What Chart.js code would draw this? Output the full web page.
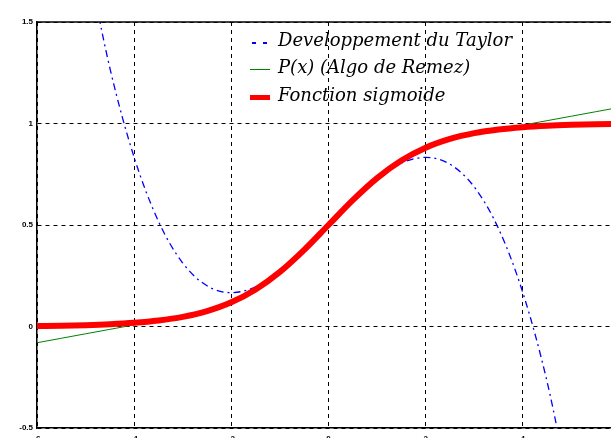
<!DOCTYPE html>
<html>
<head>
<meta charset="utf-8">
<script src="https://cdn.jsdelivr.net/npm/chart.js@4/dist/chart.umd.min.js"></script>
<style>
  html, body { margin: 0; padding: 0; background: #fff; overflow: hidden; width: 611px; height: 438px; }
  #wrap { position: relative; width: 640px; height: 444px; }
  #legend { position: absolute; left: 250px; top: 26px; font-family: "DejaVu Serif", serif; font-style: italic; font-size: 18px; color: #000; }
  .row { display: flex; align-items: center; height: 27.3px; line-height: 27px; white-space: nowrap; }
  .swatch { width: 20px; margin-right: 8px; position: relative; top: 3px; }
  .sw-taylor { height: 2px; background: repeating-linear-gradient(to right, transparent 0 2px, #0000ff 2px 6px, transparent 6px 11px); }
  .sw-remez { height: 1px; background: #008000; }
  .sw-sigmoid { height: 5px; background: #ff0000; }
</style>
</head>
<body>
<div id="wrap">
  <canvas id="chart" width="640" height="444"></canvas>
  <div id="legend">
    <div class="row"><div class="swatch sw-taylor"></div><span>Developpement du Taylor</span></div>
    <div class="row"><div class="swatch sw-remez"></div><span>P(x) (Algo de Remez)</span></div>
    <div class="row"><div class="swatch sw-sigmoid"></div><span>Fonction sigmoide</span></div>
  </div>
</div>
<script>
// Sample abscissas shared by the three curves
const xValues = [-6, -5.5, -5, -4.5, -4, -3.5, -3, -2.5, -2, -1.5, -1, -0.5, 0,
                 0.5, 1, 1.5, 2, 2.5, 3, 3.5, 4, 4.5, 5, 5.5, 6];

// Sigmoid function
const sigmoidValues = [0.0025, 0.0041, 0.0067, 0.011, 0.018, 0.0293, 0.0474, 0.0759, 0.1192, 0.1824, 0.2689, 0.3775, 0.5,
                       0.6225, 0.7311, 0.8176, 0.8808, 0.9241, 0.9526, 0.9707, 0.982, 0.989, 0.9933, 0.9959, 0.9975];

// Polynomial approximation P(x) (Remez)
const remezValues = [-0.08, -0.058, -0.036, -0.014, 0.008, 0.028, 0.05, 0.078, 0.12, 0.182, 0.268, 0.377, 0.5,
                     0.623, 0.732, 0.818, 0.88, 0.922, 0.95, 0.972, 0.992, 1.014, 1.036, 1.058, 1.08];

// Taylor expansion (leaves the plot beyond |x| ~ 4.7)
const taylorValues = [null, null, 1.854, 1.273, 0.833, 0.518, 0.3125, 0.2005, 0.1667, 0.1953, 0.2708, 0.3776, 0.5,
                      0.6224, 0.7292, 0.8047, 0.8333, 0.7995, 0.6875, 0.482, 0.1667, -0.273, -0.854, null, null];

// Axis ticks
const xTicks = [-6, -4, -2, 0, 2, 4, 6];
const yTicks = [-0.5, 0, 0.5, 1, 1.5];

const toPoints = vals => xValues.map((x, i) => ({ x: x, y: vals[i] }));

// Closes the plot frame along the top edge
const topFrame = {
  id: 'topFrame',
  afterDraw(chart) {
    const { ctx, chartArea } = chart;
    ctx.save();
    ctx.strokeStyle = '#000';
    ctx.lineWidth = 1.5;
    ctx.beginPath();
    ctx.moveTo(chartArea.left, chartArea.top);
    ctx.lineTo(chartArea.right, chartArea.top);
    ctx.stroke();
    ctx.restore();
  }
};

const tickFont = { family: 'Liberation Sans', size: 8, weight: 'bold' };

new Chart(document.getElementById('chart'), {
  type: 'line',
  data: {
    datasets: [
      {
        label: 'Fonction sigmoide',
        data: toPoints(sigmoidValues),
        borderColor: '#ff0000',
        borderWidth: 6,
        pointRadius: 0,
        cubicInterpolationMode: 'monotone'
      },
      {
        label: 'P(x) (Algo de Remez)',
        data: toPoints(remezValues),
        borderColor: '#008000',
        borderWidth: 1,
        pointRadius: 0,
        cubicInterpolationMode: 'monotone'
      },
      {
        label: 'Developpement du Taylor',
        data: toPoints(taylorValues),
        borderColor: '#0000ff',
        borderWidth: 1.3,
        borderDash: [7, 4, 2, 4],
        pointRadius: 0,
        cubicInterpolationMode: 'monotone',
        spanGaps: false
      }
    ]
  },
  options: {
    responsive: false,
    animation: false,
    devicePixelRatio: 1,
    layout: { padding: { left: 0, top: 22, right: 20, bottom: 0 } },
    plugins: { legend: { display: false }, tooltip: { enabled: false } },
    scales: {
      x: {
        type: 'linear',
        min: xTicks[0],
        max: xTicks[xTicks.length - 1],
        afterBuildTicks: s => { s.ticks = xTicks.map(v => ({ value: v })); },
        afterFit: s => { s.height = 16; },
        ticks: { font: tickFont, color: '#000', padding: 6, maxRotation: 0, callback: v => String(v) },
        grid: { color: '#000', lineWidth: 1, drawTicks: false },
        border: { display: true, color: '#000', width: 1.5, dash: [4, 4] }
      },
      y: {
        min: yTicks[0],
        max: yTicks[yTicks.length - 1],
        afterBuildTicks: s => { s.ticks = yTicks.map(v => ({ value: v })); },
        afterFit: s => { s.width = 37; },
        ticks: { font: tickFont, color: '#000', padding: 4, callback: v => String(v) },
        grid: { color: '#000', lineWidth: 1, drawTicks: false },
        border: { display: true, color: '#000', width: 1.5, dash: [4, 4] }
      }
    }
  },
  plugins: [topFrame]
});
</script>
</body>
</html>
